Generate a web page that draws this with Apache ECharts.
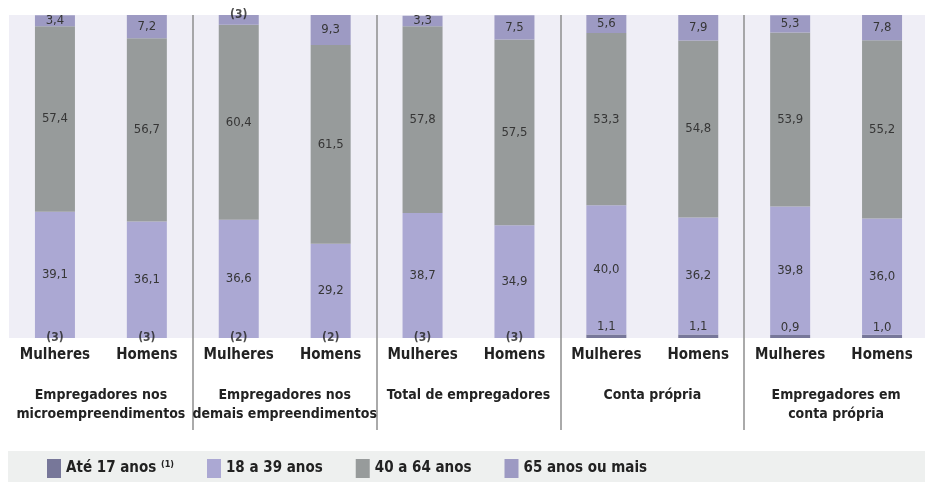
<!DOCTYPE html>
<html>
<head>
<meta charset="utf-8">
<script src="https://cdn.jsdelivr.net/npm/echarts@6/dist/echarts.min.js"></script>
<style>
  html, body { margin: 0; padding: 0; background: #fff; }
  #chart { width: 925px; height: 482px; }
</style>
</head>
<body>
<div id="chart"></div>
<script>
const FONT = "'Liberation Sans Narrow', 'DejaVu Sans Condensed', sans-serif"

// categorias
const sexos = ['Mulheres', 'Homens', 'Mulheres', 'Homens', 'Mulheres', 'Homens', 'Mulheres', 'Homens', 'Mulheres', 'Homens']
const grupos = [
  'Empregadores nos\nmicroempreendimentos',
  'Empregadores nos\ndemais empreendimentos',
  'Total de empregadores',
  'Conta própria',
  'Empregadores em\nconta própria'
]
const faixas = ['Até 17 anos', '18 a 39 anos', '40 a 64 anos', '65 anos ou mais']

// valores (%)
const ate17 = [null, null, null, null, null, null, 1.1, 1.1, 0.9, 1.0]
const de18a39 = [39.1, 36.1, 36.6, 29.2, 38.7, 34.9, 40.0, 36.2, 39.8, 36.0]
const de40a64 = [57.4, 56.7, 60.4, 61.5, 57.8, 57.5, 53.3, 54.8, 53.9, 55.2]
const mais65 = [3.4, 7.2, 3.0, 9.3, 3.3, 7.5, 5.6, 7.9, 5.3, 7.8]

// notas
const notaBase = ['(3)', '(3)', '(2)', '(2)', '(3)', '(3)', '', '', '', '']
const notaTopo = ['', '', '(3)', '', '', '', '', '', '', '']

const cores = ['#777799', '#aba8d3', '#979b9b', '#9d9ac3']

const fmt = v => v == null ? '' : v.toFixed(1).replace('.', ',')

const valueLabel = {
  show: true,
  position: 'inside',
  color: '#363636',
  fontSize: 13,
  fontFamily: FONT,
  formatter: p => fmt(p.value)
}

const chart = echarts.init(document.getElementById('chart'))

const option = {
  animation: false,
  textStyle: { fontFamily: FONT },
  graphic: [
    {
      type: 'rect',
      shape: { x: 8, y: 451, width: 917, height: 31 },
      style: { fill: '#eef0ef' },
      z: -1
    }
  ],
  legend: {
    left: 42,
    top: 454,
    itemWidth: 14,
    itemHeight: 19,
    itemGap: 33,
    icon: 'rect',
    data: faixas,
    textStyle: {
      fontFamily: FONT,
      fontWeight: 'bold',
      fontSize: 15,
      color: '#222',
      rich: {
        sup: { fontSize: 9, fontWeight: 'bold', color: '#222', fontFamily: FONT, padding: [0, 0, 7, 0] }
      }
    },
    formatter: name => name === 'Até 17 anos' ? name + ' {sup|(1)}' : name
  },
  grid: {
    left: 9,
    right: -3,
    top: 15,
    bottom: 144,
    outerBoundsMode: 'none',
    containLabel: false,
    show: true,
    backgroundColor: '#efeef6',
    borderWidth: 0
  },
  xAxis: [
    {
      type: 'category',
      data: sexos,
      axisLine: { show: false },
      axisTick: { show: false },
      axisLabel: {
        interval: 0,
        margin: 10,
        color: '#222',
        fontSize: 15,
        fontWeight: 'bold',
        fontFamily: FONT
      }
    },
    {
      type: 'category',
      data: grupos,
      position: 'bottom',
      axisLine: { show: false },
      axisTick: {
        show: true,
        interval: idx => idx > 0,
        length: 92,
        lineStyle: { color: '#8e8e8e', width: 1.5 }
      },
      splitLine: {
        show: true,
        interval: idx => idx > 0,
        lineStyle: { color: '#8e8e8e', width: 1.5 }
      },
      axisLabel: {
        interval: 0,
        margin: 48,
        color: '#222',
        fontSize: 14,
        fontWeight: 'bold',
        lineHeight: 19,
        fontFamily: FONT
      }
    }
  ],
  yAxis: {
    type: 'value',
    min: 0,
    max: 100,
    show: false
  },
  series: [
    {
      name: faixas[0],
      type: 'bar',
      stack: 'idade',
      barWidth: 40,
      itemStyle: { color: cores[0] },
      label: Object.assign({}, valueLabel, { position: 'top', distance: 1 }),
      data: ate17
    },
    {
      name: faixas[1],
      type: 'bar',
      stack: 'idade',
      itemStyle: { color: cores[1] },
      label: valueLabel,
      data: de18a39
    },
    {
      name: faixas[2],
      type: 'bar',
      stack: 'idade',
      itemStyle: { color: cores[2] },
      label: valueLabel,
      data: de40a64
    },
    {
      name: faixas[3],
      type: 'bar',
      stack: 'idade',
      itemStyle: { color: cores[3] },
      label: valueLabel,
      data: mais65.map((v, i) => notaTopo[i] ? { value: v, label: { show: false } } : v)
    },
    {
      type: 'scatter',
      symbolSize: 0,
      silent: true,
      label: {
        show: true,
        position: 'inside',
        color: '#222',
        fontSize: 12,
        fontWeight: 'bold',
        fontFamily: FONT,
        formatter: p => notaBase[p.dataIndex]
      },
      data: notaBase.map((n, i) => n ? [i, 0] : [i, null])
    },
    {
      type: 'scatter',
      symbolSize: 0,
      silent: true,
      label: {
        show: true,
        position: 'inside',
        color: '#222',
        fontSize: 12,
        fontWeight: 'bold',
        fontFamily: FONT,
        formatter: p => notaTopo[p.dataIndex]
      },
      data: notaTopo.map((n, i) => n ? [i, 100] : [i, null])
    }
  ]
}

chart.setOption(option)
</script>
</body>
</html>
